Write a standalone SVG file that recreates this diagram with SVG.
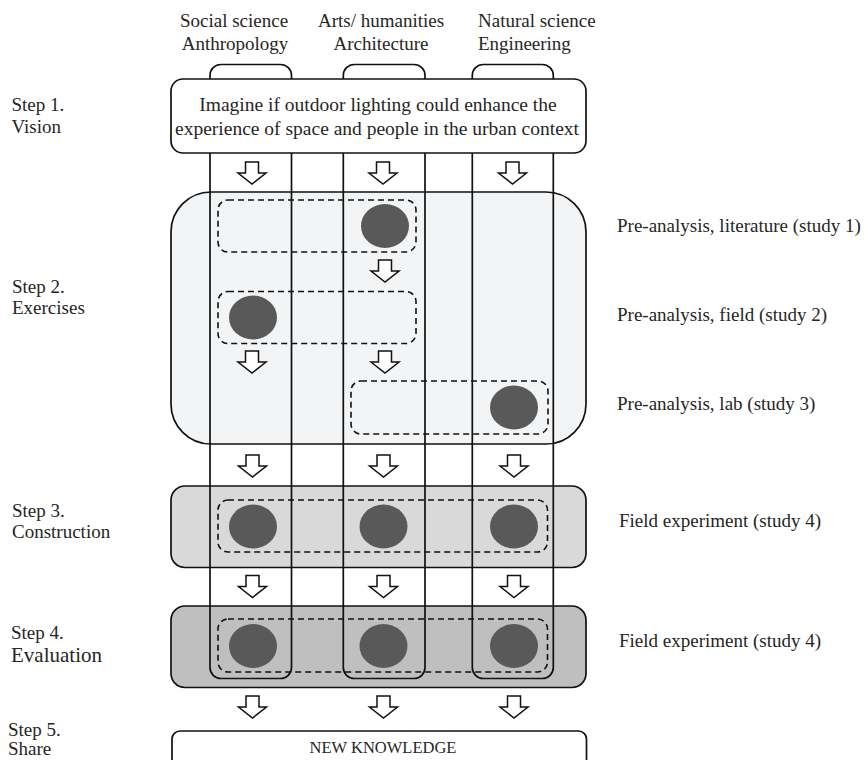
<svg xmlns="http://www.w3.org/2000/svg" xmlns:xlink="http://www.w3.org/1999/xlink" width="866" height="760" viewBox="0 0 866 760">
<style>
  text { font-family: "Liberation Serif", "Times New Roman", serif; fill: #262626; font-size: 19px; }
  .mid { text-anchor: middle; }
  .box { stroke: #111; stroke-width: 1.7; }
  .col { fill: none; stroke: #111; stroke-width: 1.7; }
  .dash { fill: none; stroke: #111; stroke-width: 1.6; stroke-dasharray: 6 4; }
  .dot { fill: #595959; }
  .arr { fill: #fff; stroke: #111; stroke-width: 1.5; stroke-linejoin: miter; }
</style>
<defs>
  <path id="arrow" class="arr" d="M-6.5,0 H6.5 V11 H14 L0,22 L-14,11 H-6.5 Z"/>
</defs>
<rect width="866" height="760" fill="#fff"/>

<!-- step boxes -->
<g id="step2-box"><rect class="box" x="171" y="192" width="415" height="252" rx="40" fill="#f3f4f6"/></g>
<g id="step3-box"><rect class="box" x="171" y="486" width="415" height="81.5" rx="14" fill="#d9d9d9"/></g>
<g id="step4-box"><rect class="box" x="171" y="606" width="415" height="81.5" rx="14" fill="#bfbfbf"/></g>

<!-- discipline columns -->
<g id="col-social"><rect class="col" x="210" y="64.5" width="81.5" height="614" rx="11"/></g>
<g id="col-arts"><rect class="col" x="343.3" y="64.5" width="81.7" height="614" rx="11"/></g>
<g id="col-natural"><rect class="col" x="472.3" y="64.5" width="81" height="614" rx="11"/></g>

<!-- headers -->
<g id="headers">
  <text class="mid" x="234" y="26.5">Social science</text>
  <text class="mid" x="235" y="50">Anthropology</text>
  <text class="mid" x="381" y="26.5">Arts/ humanities</text>
  <text class="mid" x="381" y="50">Architecture</text>
  <text x="478" y="26.5">Natural science</text>
  <text x="478" y="50">Engineering</text>
</g>

<!-- vision -->
<g id="vision">
  <rect class="box" x="171" y="79" width="415" height="74" rx="12" fill="#fff"/>
  <text class="mid" x="378" y="111" style="font-size:19.5px">Imagine if outdoor lighting could enhance the</text>
  <text class="mid" x="377" y="134.5" style="font-size:19.5px">experience of space and people in the urban context</text>
</g>

<!-- studies -->
<g id="study1">
  <rect class="dash" x="218" y="200" width="198" height="52" rx="10"/>
  <ellipse class="dot" cx="385" cy="226" rx="24" ry="22"/>
</g>
<g id="study2">
  <rect class="dash" x="218" y="291.5" width="198" height="52" rx="10"/>
  <ellipse class="dot" cx="253" cy="317.5" rx="24" ry="22"/>
</g>
<g id="study3">
  <rect class="dash" x="351" y="381" width="197" height="53" rx="10"/>
  <ellipse class="dot" cx="514" cy="407.5" rx="24" ry="22"/>
</g>
<g id="study4-construction">
  <rect class="dash" x="218" y="500" width="329.5" height="52" rx="10"/>
  <ellipse class="dot" cx="253" cy="526.5" rx="24" ry="22"/>
  <ellipse class="dot" cx="383.5" cy="526.5" rx="24" ry="22"/>
  <ellipse class="dot" cx="514" cy="526.5" rx="24" ry="22"/>
</g>
<g id="study4-evaluation">
  <rect class="dash" x="218" y="619" width="329.5" height="53" rx="10"/>
  <ellipse class="dot" cx="253" cy="646" rx="24" ry="22"/>
  <ellipse class="dot" cx="383.5" cy="646" rx="24" ry="22"/>
  <ellipse class="dot" cx="514" cy="646" rx="24" ry="22"/>
</g>

<!-- new knowledge -->
<g id="new-knowledge">
  <rect class="box" x="172" y="731" width="414.5" height="45" rx="8" fill="#fff"/>
  <text class="mid" x="383" y="752.5" style="font-size:16.5px">NEW KNOWLEDGE</text>
</g>

<!-- connectors -->
<g id="connectors">
  <use xlink:href="#arrow" href="#arrow" x="252" y="162"/>
  <use xlink:href="#arrow" href="#arrow" x="383" y="162"/>
  <use xlink:href="#arrow" href="#arrow" x="512.5" y="162"/>
  <use xlink:href="#arrow" href="#arrow" x="385" y="260"/>
  <use xlink:href="#arrow" href="#arrow" x="252" y="351"/>
  <use xlink:href="#arrow" href="#arrow" x="385" y="351"/>
  <use xlink:href="#arrow" href="#arrow" x="252.5" y="455"/>
  <use xlink:href="#arrow" href="#arrow" x="383.5" y="455"/>
  <use xlink:href="#arrow" href="#arrow" x="514" y="455"/>
  <use xlink:href="#arrow" href="#arrow" x="252.5" y="575.5"/>
  <use xlink:href="#arrow" href="#arrow" x="383.5" y="575.5"/>
  <use xlink:href="#arrow" href="#arrow" x="514" y="575.5"/>
  <use xlink:href="#arrow" href="#arrow" x="252.5" y="696"/>
  <use xlink:href="#arrow" href="#arrow" x="383.5" y="696"/>
  <use xlink:href="#arrow" href="#arrow" x="514" y="696"/>
</g>

<!-- step labels -->
<g id="step-labels">
  <text x="11.5" y="110.5">Step 1.</text>
  <text x="11.5" y="132.5">Vision</text>
  <text x="12" y="292.5">Step 2.</text>
  <text x="12" y="313.5">Exercises</text>
  <text x="12" y="516.5">Step 3.</text>
  <text x="12" y="538">Construction</text>
  <text x="11" y="639">Step 4.</text>
  <text x="11" y="661.5" style="font-size:21px">Evaluation</text>
  <text x="8" y="736">Step 5.</text>
  <text x="8" y="755">Share</text>
</g>

<!-- study labels -->
<g id="study-labels">
  <text x="617" y="231.5">Pre-analysis, literature (study 1)</text>
  <text x="617" y="320.5">Pre-analysis, field (study 2)</text>
  <text x="617" y="410">Pre-analysis, lab (study 3)</text>
  <text x="619" y="526.5">Field experiment (study 4)</text>
  <text x="619" y="646.5">Field experiment (study 4)</text>
</g>
</svg>
